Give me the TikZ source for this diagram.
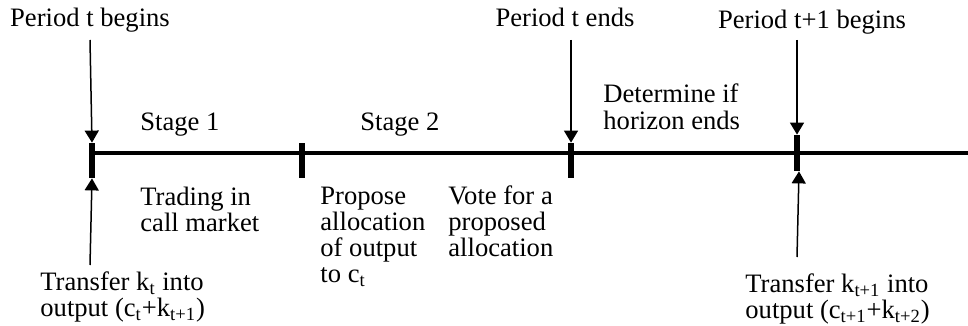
\documentclass[tikz,border=0pt]{standalone}
\usepackage{fontspec}
\setmainfont{Liberation Serif}
\usetikzlibrary{arrows.meta}

\tikzset{
  lbl/.style={anchor=base west, inner sep=0pt, font=\fontsize{13.3}{12.85}\selectfont},
  clbl/.style={anchor=base, inner sep=0pt, font=\fontsize{13.3}{12.85}\selectfont},
  tickmark/.style={rectangle, fill=black, inner sep=0pt, minimum width=2.8pt},
  axis/.style={line width=2pt},
  pointer/.style={line width=0.75pt, -{Triangle[width=7pt,length=6pt]}}
}
\newcommand{\lines}[1]{\begin{tabular}[t]{@{}l@{}}#1\end{tabular}}

\begin{document}
\begin{tikzpicture}[x=0.5pt, y=-0.5pt]
  \useasboundingbox (0,0) rectangle (968,326);

  % time axis
  \coordinate (ax0) at (90,153);
  \coordinate (ax1) at (968,153);
  \draw[axis] (ax0) -- (ax1);

  % tick marks
  \node[tickmark, minimum height=17.5pt] (k1) at (92,160.5) {};
  \node[tickmark, minimum height=17.5pt] (k2) at (302,160.5) {};
  \node[tickmark, minimum height=17.5pt] (k3) at (571,160.5) {};
  \node[tickmark, minimum height=18pt]   (k4) at (797,153) {};

  % labels above the axis
  \node[clbl] (pb)  at (90,27)  {Period t begins};
  \node[clbl] (pe)  at (565,27) {Period t ends};
  \node[clbl] (pb1) at (812,29) {Period t+1 begins};
  \node[lbl]  (s1)  at (140,130) {Stage 1};
  \node[lbl]  (s2)  at (360,130) {Stage 2};
  \node[lbl]  (hz)  at (603,103) {\lines{Determine if\\horizon ends}};

  % labels below the axis
  \node[lbl] (tr) at (140,205) {\lines{Trading in\\call market}};
  \node[lbl] (pr) at (320,204) {\lines{Propose\\allocation\\of output\\to c\textsubscript{t}}};
  \node[lbl] (vo) at (448,204) {\lines{Vote for a\\proposed\\allocation}};
  \node[lbl] (t1) at (40,290)  {\lines{Transfer k\textsubscript{t} into\\output (c\textsubscript{t}+k\textsubscript{t+1})}};
  \node[lbl] (t2) at (745,292) {\lines{Transfer k\textsubscript{t+1} into\\output (c\textsubscript{t+1}+k\textsubscript{t+2})}};

  % arrow tails
  \coordinate (a1) at (90,40);
  \coordinate (a2) at (90,265);
  \coordinate (a3) at (571,40);
  \coordinate (a4) at (797,40);
  \coordinate (a5) at (797,257);

  % pointers
  \draw[pointer] (a1) -- (k1.north);
  \draw[pointer] (a2) -- (k1.south);
  \draw[pointer] (a3) -- (k3.north);
  \draw[pointer] (a4) -- (k4.north);
  \draw[pointer] (a5) -- ([xshift=1pt]k4.south);
\end{tikzpicture}
\end{document}
